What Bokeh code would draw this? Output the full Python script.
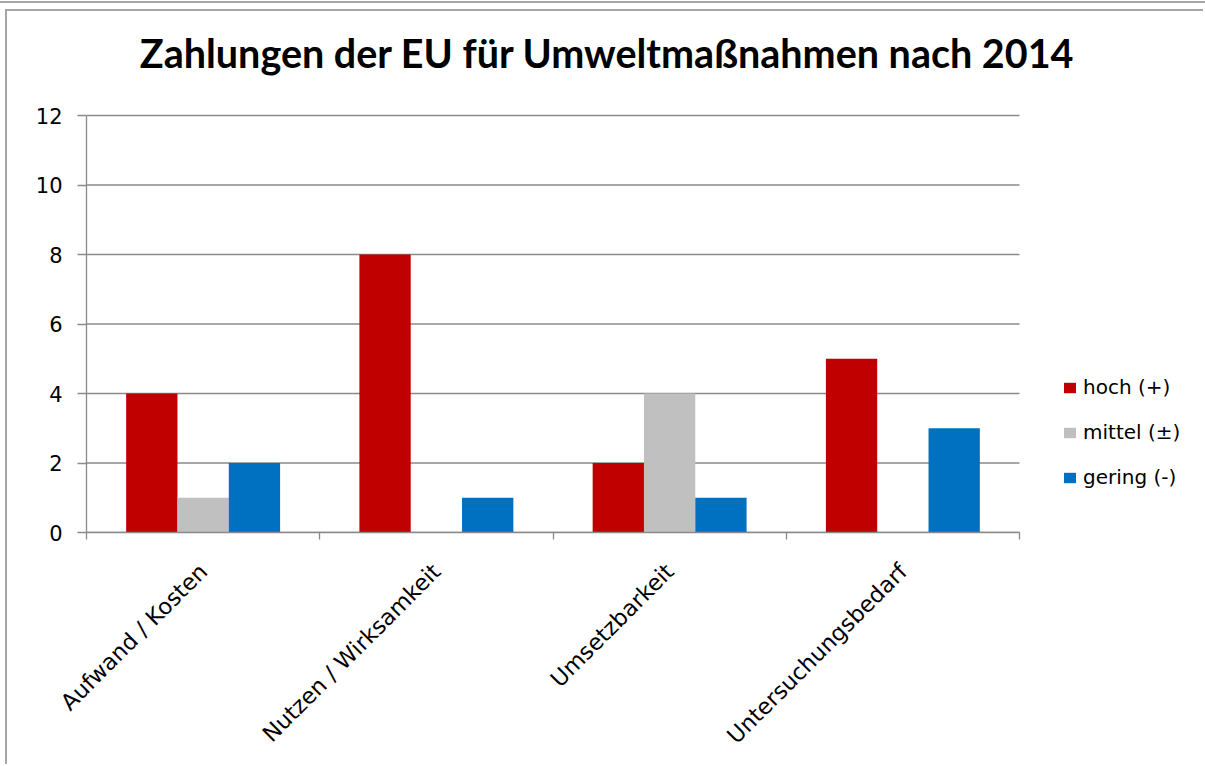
import math
from bokeh.plotting import figure
from bokeh.models import (FixedTicker, Range1d, Legend, LegendItem, ColumnDataSource, Label)
from bokeh.embed import file_html
from bokeh.resources import INLINE

# ---- data ----
categories = ["Aufwand / Kosten", "Nutzen / Wirksamkeit", "Umsetzbarkeit", "Untersuchungsbedarf"]
hoch = [4, 8, 2, 5]
mittel = [1, 0, 4, 0]
gering = [2, 1, 1, 3]
series_names = ["hoch (+)", "mittel (±)", "gering (-)"]
series_colors = ["#C00000", "#C0C0C0", "#0070C0"]
y_ticks = [0, 2, 4, 6, 8, 10, 12]
title_text = "Zahlungen der EU für Umweltmaßnahmen nach 2014"

TFONT = "Lato"
FONT = "DejaVu Sans"
GRAY = "#8a8a8a"

n = len(categories)
y_max = y_ticks[-1]
centers = [i + 0.5 for i in range(n)]
bar_w = 0.22
offsets = [-bar_w, 0.0, bar_w]

# layout (pixels)
W, H = 1198, 755
ML, MR, MT, MB = 79, 6, 0, 234
plot_px_w = 933                     # width that the categories occupy
plot_px_h = 417                     # height of the value area (0..12)
frame_px_w = W - ML - MR
frame_px_h = H - MT - MB
x_end = n * frame_px_w / plot_px_w   # extra room on the right holds the legend
y_end = y_max * frame_px_h / plot_px_h  # extra room on top holds the title

p = figure(width=W, height=H, x_range=Range1d(0, x_end), y_range=Range1d(0, y_end),
           output_backend="svg", toolbar_location=None, title=None,
           min_border_left=ML, min_border_right=MR, min_border_top=MT,
           min_border_bottom=MB,
           styles={"margin-left": "5px", "margin-top": "9px",
                   "border-top": "2px solid #a6a6a6", "border-left": "2px solid #a6a6a6",
                   "outline": "2px solid #a6a6a6", "outline-offset": "6px"})
p.outline_line_color = None
p.background_fill_color = "white"
p.border_fill_color = "white"

# horizontal grid lines only across the category area
p.xgrid.visible = False
p.ygrid.visible = False
p.segment(x0=[0] * len(y_ticks), x1=[n] * len(y_ticks), y0=y_ticks, y1=y_ticks,
          line_color=GRAY, line_width=1.3, level="underlay")

renderers = []
for vals, name, col, off in zip([hoch, mittel, gering], series_names, series_colors, offsets):
    src = ColumnDataSource(dict(x=[c + off for c in centers], top=vals))
    r = p.vbar(x="x", top="top", bottom=0, width=bar_w, source=src,
               fill_color=col, line_color=None)
    renderers.append((name, r))

# y axis
p.yaxis.bounds = (0, y_max)
p.yaxis.ticker = FixedTicker(ticks=y_ticks)
p.yaxis.major_tick_out = 9
p.yaxis.major_tick_in = 0
p.yaxis.minor_tick_out = 0
p.yaxis.minor_tick_in = 0
p.yaxis.axis_line_color = GRAY
p.yaxis.axis_line_width = 1.3
p.yaxis.major_tick_line_color = GRAY
p.yaxis.major_tick_line_width = 1.3
p.yaxis.major_label_text_font = FONT
p.yaxis.major_label_text_font_size = "21px"
p.yaxis.major_label_text_color = "black"
p.yaxis.major_label_standoff = 15

# x axis: labels at centres, tick marks at boundaries
p.xaxis.bounds = (0, n)
p.xaxis.ticker = FixedTicker(ticks=centers, minor_ticks=list(range(n + 1)))
p.xaxis.major_label_overrides = {c: name for c, name in zip(centers, categories)}
p.xaxis.major_tick_out = 0
p.xaxis.major_tick_in = 0
p.xaxis.minor_tick_out = 7
p.xaxis.minor_tick_in = 0
p.xaxis.minor_tick_line_color = GRAY
p.xaxis.minor_tick_line_width = 1.3
p.xaxis.axis_line_color = GRAY
p.xaxis.axis_line_width = 1.3
p.xaxis.major_label_orientation = math.pi / 4
p.xaxis.major_label_text_font = FONT
p.xaxis.major_label_text_font_size = "22.5px"
p.xaxis.major_label_text_color = "black"
p.xaxis.major_label_standoff = 28

# title (inside the top part of the frame)
title = Label(x=521, y=480, x_units="screen", y_units="screen", text=title_text,
              text_font=TFONT, text_font_style="bold", text_font_size="39.5px",
              text_align="center", text_baseline="alphabetic", text_color="black")
p.add_layout(title)

legend = Legend(items=[LegendItem(label=nm, renderers=[r]) for nm, r in renderers],
                location=(976, 43), orientation="vertical",
                padding=0, margin=0, border_line_color=None, background_fill_alpha=0,
                glyph_width=15, glyph_height=13, label_standoff=6,
                label_text_font=FONT, label_text_font_size="20px", label_text_color="black",
                label_height=20, spacing=21)
p.add_layout(legend)

open("out.html", "w").write(file_html(p, INLINE))
